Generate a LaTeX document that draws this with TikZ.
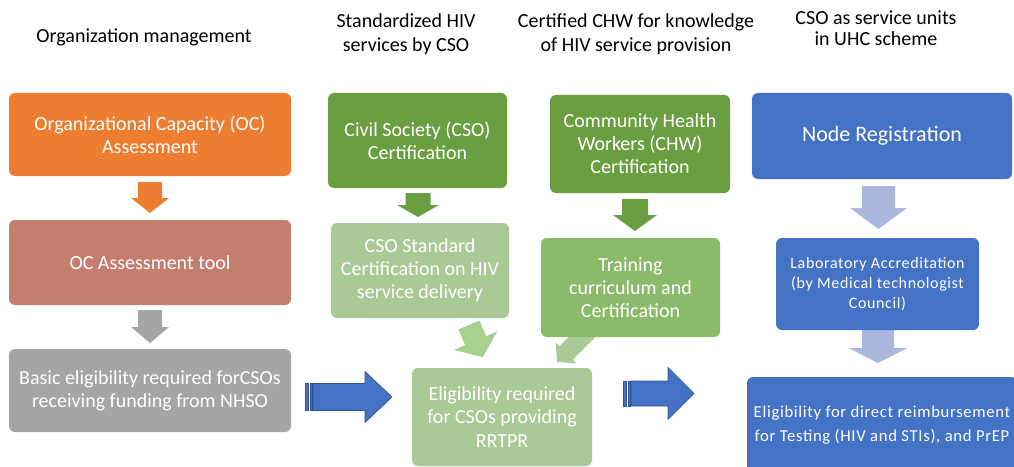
\documentclass[tikz,border=0pt]{standalone}
\usepackage{fontspec}
\setmainfont{Carlito}
\newfontfamily\spcfont[LetterSpace=4]{Carlito}
\definecolor{corange}{HTML}{ED7D31}
\definecolor{cbrown}{HTML}{C47E6E}
\definecolor{cgray}{HTML}{A5A5A5}
\definecolor{cgreen}{HTML}{6A9F41}
\definecolor{clgreen}{HTML}{A9CA96}
\definecolor{cmgreen}{HTML}{8BBA6B}
\definecolor{cagreen}{HTML}{A9D18E}
\definecolor{cblue}{HTML}{4472C4}
\definecolor{cdblue}{HTML}{2F528F}
\definecolor{clav}{HTML}{ABB8DE}
\newcommand{\vblock}[7]{\fill[#1] (#2-#6,#3) -- (#2+#6,#3) -- (#2+#6,#4) -- (#2+#7,#4) -- (#2,#5) -- (#2-#7,#4) -- (#2-#6,#4) -- cycle;}
\newcommand{\rotblock}[8]{\begin{scope}[shift={(#2,#3)},rotate=#4]
\fill[#1] (0,-#7) -- (#5,-#7) -- (#5,-#8) -- (#5+#6,0) -- (#5,#8) -- (#5,#7) -- (0,#7) -- cycle;
\end{scope}}
\newcommand{\stripedarr}[6]{%
\filldraw[fill=cblue,draw=cdblue,line width=0.5pt] (#1,#2-#3) rectangle (#1+3.5,#2+#3);
\filldraw[fill=cblue,draw=cdblue,line width=0.5pt] (#1+5,#2-#3) rectangle (#1+7,#2+#3);
\filldraw[fill=cblue,draw=cdblue,line width=0.5pt] (#1+8,#2-#3) -- (#4,#2-#3) -- (#4,#2-#5) -- (#6,#2) -- (#4,#2+#5) -- (#4,#2+#3) -- (#1+8,#2+#3) -- cycle;}
\begin{document}
\begin{tikzpicture}[x=0.75pt,y=-0.75pt,
  box/.style={rounded corners=4.5pt,text=white,align=center,inner sep=0pt,font=\fontsize{15}{17.3}\selectfont},
  head/.style={text=black,align=center,inner sep=0pt,font=\fontsize{15}{18}\selectfont}]
\useasboundingbox (0,0) rectangle (1014,467);
% headers
\node[head] (h1) at (144,37) {Organization management};
\node[head] (h2) at (406,34) {Standardized HIV\\services by CSO};
\node[head] (h3) at (636,34) {Certified CHW for knowledge\\of HIV service provision};
\node[head,font=\fontsize{15}{15.8}\selectfont] (h4) at (876,28) {CSO as service units\\in UHC scheme};
% arrows behind boxes
\rotblock{clgreen}{591.5}{327.5}{-135}{36}{12.7}{9.5}{14.9}
\vblock{clav}{878}{325}{348}{363}{16}{29.5}
% column 1
\node[box,fill=corange,minimum width=211.5pt,minimum height=62.25pt] (oc) at (150,134.5) {Organizational Capacity (OC)\\Assessment};
\node[box,fill=cbrown,minimum width=211.5pt,minimum height=63.75pt] (tool) at (150,262.5) {OC Assessment tool};
\node[box,fill=cgray,minimum width=211.5pt,minimum height=62.25pt] (basic) at (150,390.5) {Basic eligibility required forCSOs\\receiving funding from NHSO};
\vblock{corange}{150}{182}{198}{213}{12}{19}
\vblock{cgray}{150}{310}{327}{343}{12}{19}
% column 2
\node[box,fill=cgreen,minimum width=134.25pt,minimum height=71.25pt] (cso) at (417.5,140.5) {Civil Society (CSO)\\Certification};
\node[box,fill=clgreen,minimum width=133.5pt,minimum height=71.25pt] (csostd) at (420,270.5) {CSO Standard\\Certification on HIV\\service delivery};
\vblock{cgreen}{418}{193}{205}{217}{12.5}{21}
% column 3
\node[box,fill=cgreen,minimum width=135pt,minimum height=73.5pt] (chw) at (640,144) {Community Health\\Workers (CHW)\\Certification};
\node[box,fill=cmgreen,minimum width=134.25pt,minimum height=74.25pt] (train) at (630.5,287.5) {Training\\curriculum and\\Certification};
\vblock{cgreen}{635}{199}{215}{231}{13}{22}
% eligibility
\node[box,fill=clgreen,minimum width=135pt,minimum height=73.5pt] (elig) at (502,417) {Eligibility required\\for CSOs providing\\RRTPR};
\rotblock{cagreen}{469}{325}{-67}{17}{18}{11.4}{23.7}
% column 4
\node[box,fill=cblue,minimum width=195pt,minimum height=64.5pt,font=\fontsize{16.5}{19}\selectfont] (reg) at (882,136) {Node Registration};
\node[box,fill=cblue,minimum width=152.25pt,minimum height=69pt,font=\spcfont\fontsize{12}{15}\selectfont] (lab) at (877.5,284) {Laboratory Accreditation\\(by Medical technologist\\Council)};
\node[box,fill=cblue,minimum width=202.5pt,minimum height=72pt,font=\spcfont\fontsize{12.5}{18}\selectfont] (reimb) at (882,425) {Eligibility for direct reimbursement\\for Testing (HIV and STIs), and PrEP};
\vblock{clav}{878.5}{186}{208}{229}{16.5}{28.5}
% striped arrows
\stripedarr{305}{397}{13.5}{365}{25.5}{392}
\stripedarr{623}{393.5}{12.5}{668}{26}{694}
\end{tikzpicture}
\end{document}
